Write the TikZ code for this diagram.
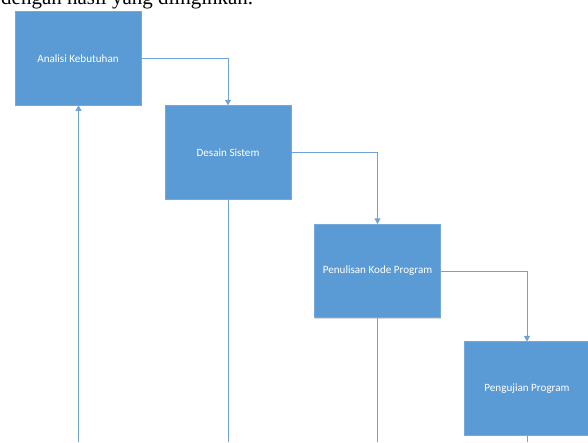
\documentclass[tikz,border=0pt]{standalone}
\usepackage{fontspec}
\setmainfont{Liberation Serif}
\newfontfamily\boxfont{Carlito}
\usetikzlibrary{arrows.meta,shadows}
\definecolor{boxblue}{HTML}{5B9BD5}
\definecolor{lineblue}{HTML}{6FA3D6}
\begin{document}
\begin{tikzpicture}[x=1pt,y=1pt,
  stepbox/.style={draw=boxblue!85!white, line width=0.6pt, fill=boxblue, minimum width=126pt, minimum height=93.5pt, inner sep=0pt,
     text=white, font=\boxfont\fontsize{11.1}{13}\selectfont,
     drop shadow={shadow xshift=0.8pt, shadow yshift=-0.8pt, fill=black!30, opacity=0.5}},
  flow/.style={draw=lineblue, line width=0.9pt},
  arr/.style={flow, -{Triangle[width=6pt,length=5.5pt]}}]
\useasboundingbox (0,0) rectangle (588,-442);
\clip (0,0) rectangle (588,-442);
\node[anchor=base west, font=\fontsize{21}{24}\selectfont, inner sep=0pt] (top) at (1,-4.5) {dengan hasil yang diinginkan.};
\node[stepbox] (b1) at (78,-58.3) {Analisi Kebutuhan};
\node[stepbox] (b2) at (228,-152.3) {Desain Sistem};
\node[stepbox] (b3) at (377.5,-271) {Penulisan Kode Program};
\node[stepbox] (b4) at (527,-388.5) {Pengujian Program};
\coordinate (e1) at (78.5,-442);
\coordinate (e2) at (228,-442);
\coordinate (e3) at (377.5,-442);
\coordinate (e4) at (527,-442);
\draw[arr] (b1.east) -| (b2.north);
\draw[arr] (b2.east) -| (b3.north);
\draw[arr] (b3.east) -| (b4.north);
\draw[arr] (e1) -- (e1 |- b1.south);
\draw[flow] (b2.south) -- (e2);
\draw[flow] (b3.south) -- (e3);
\draw[flow] (b4.south) -- (e4);
\end{tikzpicture}
\end{document}
